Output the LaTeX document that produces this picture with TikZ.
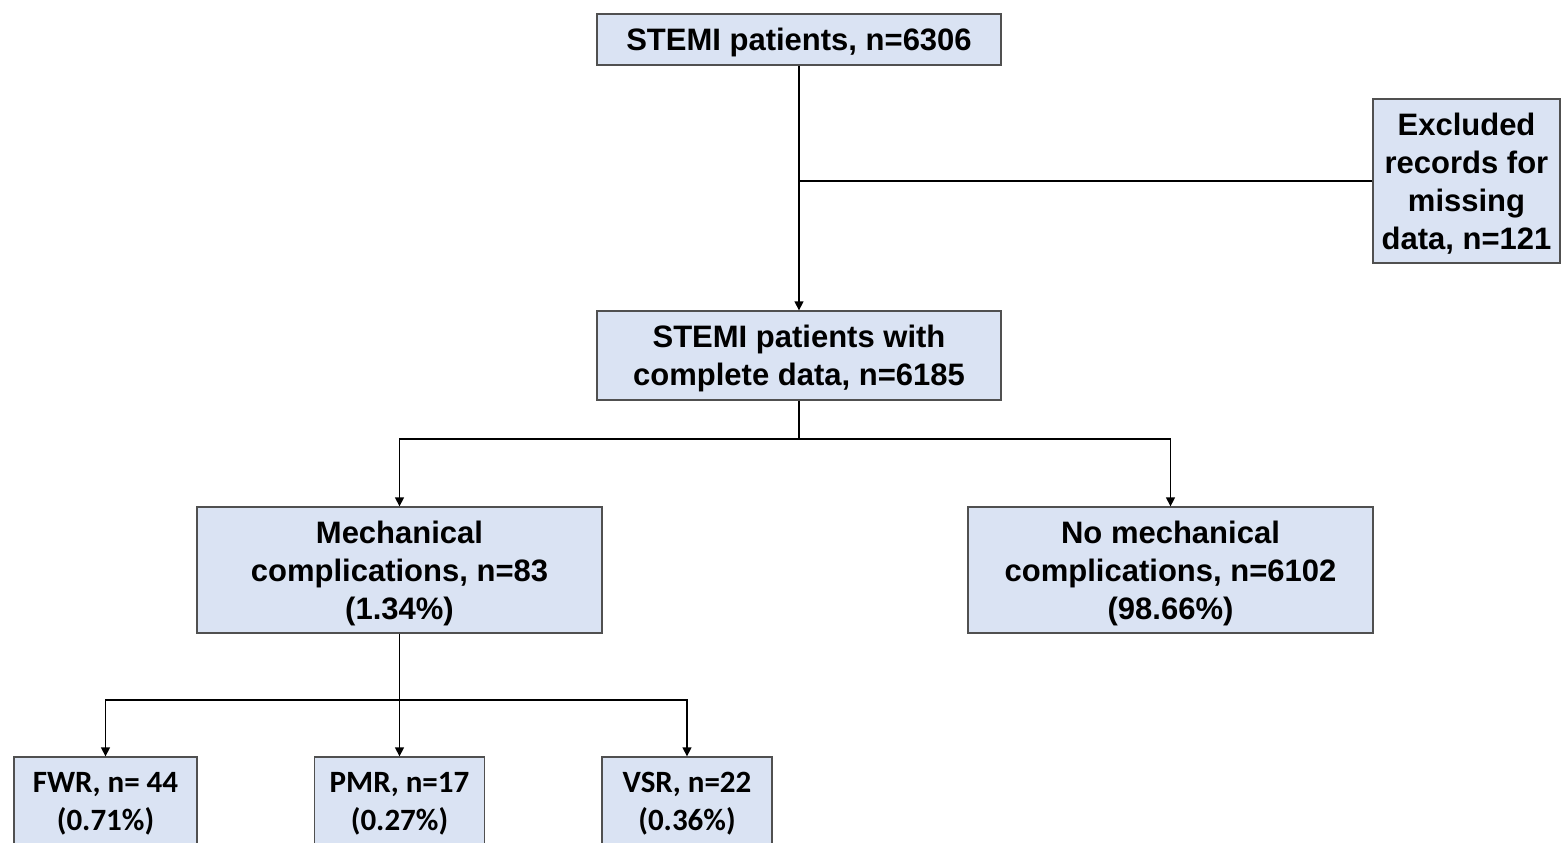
\documentclass[tikz,border=0pt]{standalone}
\usepackage{fontspec}
\newfontfamily\arialfont{Liberation Sans}[BoldFont={Liberation Sans Bold}]
\newfontfamily\calfont{Carlito}[BoldFont={Carlito Bold}]
\usetikzlibrary{arrows.meta}
\definecolor{boxfill}{HTML}{DAE3F3}
\definecolor{boxline}{HTML}{505050}
\tikzset{
  x=1pt, y=-1pt,
  box/.style={draw=boxline, line width=1.3pt, fill=boxfill, inner sep=0pt, align=center,
    text depth=0pt, font=\arialfont\fontsize{31}{38}\selectfont\bfseries},
  calbox/.style={box, font=\calfont\fontsize{31}{38}\selectfont\bfseries},
  conn/.style={draw=black, line width=1.3pt},
  arr/.style={conn, -{Triangle[width=9pt,length=9pt]}}
}
\begin{document}
\begin{tikzpicture}
\useasboundingbox (0,0) rectangle (1561,843);
\clip (0,0) rectangle (1561,843);
\fill[white] (0,0) rectangle (1561,843);
\node[box, minimum width=404pt, minimum height=51pt] (top) at (799,39.5) {STEMI patients, n=6306};
\node[box, minimum width=187pt, minimum height=164pt] (excl) at (1466.5,181) {Excluded\\records for\\missing\\data, n=121};
\node[box, minimum width=404pt, minimum height=89pt] (second) at (799,355.5) {STEMI patients with\\complete data, n=6185};
\node[box, minimum width=405pt, minimum height=126pt] (mech) at (399.5,570) {Mechanical\\complications, n=83\\(1.34\%)};
\node[box, minimum width=405pt, minimum height=126pt] (nomech) at (1170.5,570) {No mechanical\\complications, n=6102\\(98.66\%)};
\node[calbox, minimum width=183pt, minimum height=88pt] (fwr) at (105.5,801) {FWR, n= 44\\(0.71\%)};
\node[calbox, minimum width=170pt, minimum height=88pt] (pmr) at (399.5,801) {PMR, n=17\\(0.27\%)};
\node[calbox, minimum width=170pt, minimum height=88pt] (vsr) at (687,801) {VSR, n=22\\(0.36\%)};
\coordinate (j1) at (799,439);
\coordinate (j2) at (399.5,700);
\draw[arr] (top) -- (second);
\draw[conn] (excl.west) -- (excl.west -| top.south);
\draw[conn] (second.south) -- (j1);
\draw[arr] (j1) -| (mech.north);
\draw[arr] (j1) -| (nomech.north);
\draw[conn] (mech.south) -- (j2);
\draw[arr] (j2) -| (fwr.north);
\draw[arr] (j2) -- (pmr.north);
\draw[arr] (j2) -| (vsr.north);
\end{tikzpicture}
\end{document}
